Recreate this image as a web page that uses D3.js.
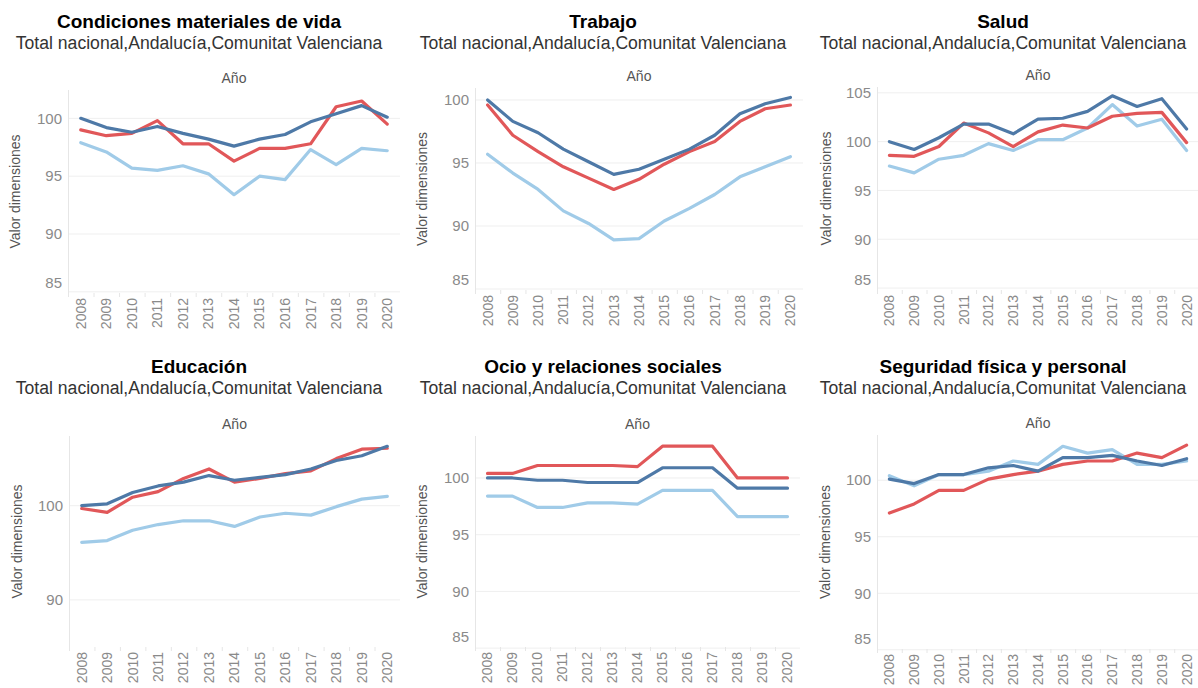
<!DOCTYPE html>
<html>
<head>
<meta charset="utf-8">
<script src="https://cdn.jsdelivr.net/npm/d3@7"></script>
<style>
    body { margin: 0; background: #fff; }
    svg { display: block; font-family: "Liberation Sans", Arial, sans-serif; }
    .title { font-weight: bold; font-size: 19px; fill: #000; }
    .subtitle { font-size: 17.6px; fill: #333; }
    .axis-title { font-size: 14px; fill: #555; }
    .tick-label { font-size: 15px; fill: #8a8a8a; }
    .year-label { font-size: 14px; fill: #8a8a8a; }
</style>
</head>
<body>
<div id="chart"></div>
<script>

// ---- data ----
let years = ["2008","2009","2010","2011","2012","2013","2014","2015","2016","2017","2018","2019","2020"];

let titles = ["Condiciones materiales de vida", "Trabajo", "Salud", "Educación", "Ocio y relaciones sociales", "Seguridad física y personal"];
let subtitle = "Total nacional,Andalucía,Comunitat Valenciana";
let seriesNames = ["Andalucía", "Comunitat Valenciana", "Total nacional"];

let yTicks = [
    [85, 90, 95, 100],
    [85, 90, 95, 100],
    [85, 90, 95, 100, 105],
    [90, 100],
    [85, 90, 95, 100],
    [85, 90, 95, 100]
];

// one row per panel, same order as titles
let totalNacional = [
    [100.0, 99.2, 98.8, 99.3, 98.7, 98.2, 97.6, 98.2, 98.6, 99.7, 100.4, 101.1, 100.1],
    [100.0, 98.3, 97.4, 96.1, 95.1, 94.1, 94.5, 95.3, 96.1, 97.2, 98.9, 99.7, 100.2],
    [100.0, 99.2, 100.4, 101.8, 101.8, 100.8, 102.3, 102.4, 103.1, 104.7, 103.6, 104.4, 101.3],
    [100.0, 100.2, 101.4, 102.1, 102.5, 103.2, 102.7, 103.0, 103.3, 103.9, 104.8, 105.3, 106.3],
    [100.0, 100.0, 99.8, 99.8, 99.6, 99.6, 99.6, 100.9, 100.9, 100.9, 99.1, 99.1, 99.1],
    [100.1, 99.7, 100.5, 100.5, 101.1, 101.3, 100.8, 102.0, 102.0, 102.2, 101.7, 101.3, 101.9]
];

let andalucia = [
    [97.9, 97.1, 95.7, 95.5, 95.9, 95.2, 93.4, 95.0, 94.7, 97.3, 96.0, 97.4, 97.2],
    [95.7, 94.2, 92.9, 91.2, 90.2, 88.9, 89.0, 90.4, 91.4, 92.5, 93.9, 94.7, 95.5],
    [97.5, 96.8, 98.2, 98.6, 99.8, 99.1, 100.2, 100.2, 101.4, 103.8, 101.6, 102.3, 99.1],
    [96.1, 96.3, 97.4, 98.0, 98.4, 98.4, 97.8, 98.8, 99.2, 99.0, 99.9, 100.7, 101.0],
    [98.4, 98.4, 97.4, 97.4, 97.8, 97.8, 97.7, 98.9, 98.9, 98.9, 96.6, 96.6, 96.6],
    [100.4, 99.5, 100.5, 100.5, 100.8, 101.7, 101.4, 103.0, 102.4, 102.7, 101.4, 101.4, 101.7]
];

let valenciana = [
    [99.0, 98.5, 98.7, 99.8, 97.8, 97.8, 96.3, 97.4, 97.4, 97.8, 101.0, 101.5, 99.5],
    [99.6, 97.2, 95.9, 94.7, 93.8, 92.9, 93.7, 94.9, 95.9, 96.7, 98.3, 99.3, 99.6],
    [98.6, 98.5, 99.5, 101.9, 100.9, 99.5, 101.0, 101.7, 101.4, 102.6, 102.9, 103.0, 99.9],
    [99.7, 99.3, 100.9, 101.5, 102.9, 103.9, 102.5, 102.9, 103.4, 103.7, 105.0, 106.0, 106.1],
    [100.4, 100.4, 101.1, 101.1, 101.1, 101.1, 101.0, 102.8, 102.8, 102.8, 100.0, 100.0, 100.0],
    [97.1, 97.9, 99.1, 99.1, 100.1, 100.5, 100.8, 101.4, 101.7, 101.7, 102.4, 102.0, 103.1]
];

// ---- layout (pixels) ----
let colors = {"Total nacional": "#4e79a7", "Andalucía": "#a0cbe8", "Comunitat Valenciana": "#e15759"};

// left axis x, right edge, plot top, plot bottom, y domain
let panels = [
    {cx: 199,  left: 68,  right: 400,  top: 90,  bottom: 293, dom: [84.9, 102.45], row: 0, yTitleX: 15},
    {cx: 603,  left: 475, right: 803,  top: 88,  bottom: 290, dom: [84.92, 100.95], row: 0, yTitleX: 422},
    {cx: 1003, left: 877, right: 1199, top: 87,  bottom: 290, dom: [84.8, 105.6], row: 0, yTitleX: 826},
    {cx: 199,  left: 69,  right: 400,  top: 436, bottom: 647, dom: [85.0, 107.4], row: 1, yTitleX: 17},
    {cx: 603,  left: 475, right: 800,  top: 436, bottom: 647, dom: [85.1, 103.7], row: 1, yTitleX: 422},
    {cx: 1003, left: 877, right: 1199, top: 435, bottom: 649, dom: [85.07, 104.0], row: 1, yTitleX: 825}
];

let svg = d3.select("#chart").append("svg")
    .attr("width", 1198)
    .attr("height", 688);

panels.forEach((p, i) => {

    let rowY = p.row * 345;
    let g = svg.append("g").attr("class", "panel");

    // clip the plot area so the right-hand panels don't spill
    let plot = svg.append("g");
    plot.append("clipPath").attr("id", "clip" + i)
        .append("rect")
        .attr("x", p.left - 70).attr("y", 0)
        .attr("width", Math.min(p.right, 1198) - p.left + 70)
        .attr("height", 688);
    plot.attr("clip-path", `url(#clip${i})`);

    // titles
    g.append("text")
        .attr("class", "title")
        .attr("x", p.cx)
        .attr("y", rowY + 28)
        .attr("text-anchor", "middle")
        .text(titles[i]);

    g.append("text")
        .attr("class", "subtitle")
        .attr("x", p.cx)
        .attr("y", rowY + 49)
        .attr("text-anchor", "middle")
        .text(subtitle);

    // scales
    let x = d3.scaleBand()
        .domain(years)
        .range([p.left, p.right])
        .padding(0);

    let y = d3.scaleLinear()
        .domain(p.dom)
        .range([p.bottom, p.top]);

    // "Año" header
    plot.append("text")
        .attr("class", "axis-title")
        .attr("x", (p.left + p.right) / 2)
        .attr("y", p.top - 7)
        .attr("text-anchor", "middle")
        .text("Año");

    // grid lines
    plot.selectAll(".grid")
        .data(yTicks[i])
        .enter()
        .append("line")
        .attr("x1", p.left)
        .attr("x2", p.right)
        .attr("y1", d => y(d))
        .attr("y2", d => y(d))
        .attr("stroke", "#efefef")
        .attr("stroke-width", 1);

    // left axis line
    plot.append("line")
        .attr("x1", p.left + 0.5).attr("x2", p.left + 0.5)
        .attr("y1", p.top).attr("y2", p.bottom + 4)
        .attr("stroke", "#e6e6e6");

    // separators between years
    plot.selectAll(".sep")
        .data(years.slice(1))
        .enter()
        .append("line")
        .attr("x1", d => x(d) + 0.5)
        .attr("x2", d => x(d) + 0.5)
        .attr("y1", p.bottom)
        .attr("y2", p.bottom + 4)
        .attr("stroke", "#e6e6e6");

    // y tick labels (the bottom one gets pushed up to stay inside)
    plot.selectAll(".tick-label")
        .data(yTicks[i])
        .enter()
        .append("text")
        .attr("class", "tick-label")
        .attr("x", p.left - 6)
        .attr("y", d => Math.min(y(d), p.bottom - 10))
        .attr("dy", "0.35em")
        .attr("text-anchor", "end")
        .text(d => d);

    // y axis title
    plot.append("text")
        .attr("class", "axis-title")
        .attr("transform", `translate(${p.yTitleX},${(p.top + p.bottom) / 2}) rotate(-90)`)
        .attr("dy", "0.35em")
        .attr("text-anchor", "middle")
        .text("Valor dimensiones");

    // year labels, rotated
    plot.selectAll(".year-label")
        .data(years)
        .enter()
        .append("text")
        .attr("class", "year-label")
        .attr("transform", d => `translate(${x(d) + x.bandwidth() / 2},${p.bottom + 5}) rotate(-90)`)
        .attr("dy", "0.35em")
        .attr("text-anchor", "end")
        .text(d => d);

    // lines
    let line = d3.line()
        .x((d, j) => x(years[j]) + x.bandwidth() / 2)
        .y(d => y(d));

    let seriesData = {
        "Andalucía": andalucia[i],
        "Comunitat Valenciana": valenciana[i],
        "Total nacional": totalNacional[i]
    };

    seriesNames.forEach(name => {
        plot.append("path")
            .datum(seriesData[name])
            .attr("fill", "none")
            .attr("stroke", colors[name])
            .attr("stroke-width", 3.2)
            .attr("stroke-linejoin", "round")
            .attr("stroke-linecap", "round")
            .attr("d", line);
    });
});

</script>
</body>
</html>
